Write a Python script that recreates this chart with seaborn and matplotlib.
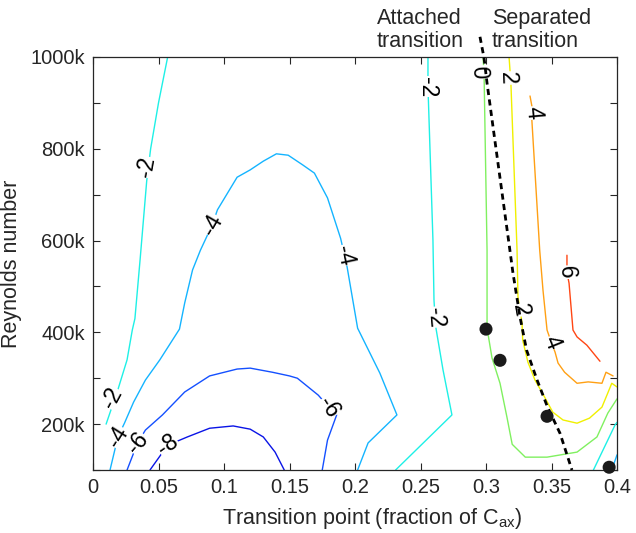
import matplotlib
matplotlib.use("Agg")
import matplotlib.pyplot as plt
import seaborn as sns
import pandas as pd

# ---------------- data ----------------
# contour level -2 (left branch)
m2a_x = [0.057, 0.050, 0.044, 0.041, 0.036, 0.032, 0.030, 0.026, 0.019, 0.010]
m2a_y = [1000, 900, 800, 730, 560, 430, 405, 340, 275, 200]
# contour level -2 (middle branch)
m2b_x = [0.2557, 0.2557, 0.2595, 0.2603, 0.2611, 0.2618, 0.2672, 0.274, 0.231]
m2b_y = [1000, 935, 601, 470, 433, 409, 318, 220, 100]
# contour level -2 (bottom-right piece)
m2c_x = [0.382, 0.3985, 0.400]
m2c_y = [100, 198, 204]
# contour level -4
m4a_x = [0.013, 0.019, 0.024, 0.031, 0.040, 0.051, 0.066, 0.070, 0.076, 0.082,
         0.091, 0.095, 0.110, 0.120, 0.130, 0.140, 0.149, 0.160, 0.169, 0.179,
         0.189, 0.192, 0.194, 0.202, 0.219, 0.232, 0.210, 0.202]
m4a_y = [100, 172, 202, 248, 296, 340, 407, 464, 536, 579,
         634, 667, 738, 754, 773, 789, 786, 765, 747, 693,
         605, 568, 542, 409, 311, 220, 159, 100]
m4b_x = [0.396, 0.400]
m4b_y = [100, 133]
# contour level -6
m6_x = [0.026, 0.034, 0.040, 0.053, 0.070, 0.089, 0.110, 0.120, 0.137, 0.150,
        0.156, 0.172, 0.180, 0.186, 0.179, 0.175]
m6_y = [100, 159, 187, 220, 270, 305, 320, 322, 313, 305,
        300, 263, 237, 220, 165, 100]
# contour level -8
m8_x = [0.0435, 0.057, 0.072, 0.089, 0.107, 0.120, 0.130, 0.139, 0.146]
m8_y = [100, 154, 172, 191, 196, 189, 172, 139, 100]
# contour level 0
p0_x = [0.2977, 0.2985, 0.3008, 0.3008, 0.3046, 0.3107, 0.316, 0.320, 0.330,
        0.3466, 0.3695, 0.3847, 0.393, 0.400]
p0_y = [1000, 967, 579, 409, 344, 289, 215, 156, 128,
        128, 139, 172, 224, 255]
# contour level 2
p2_x = [0.3176, 0.319, 0.3237, 0.3244, 0.326, 0.3275, 0.328, 0.332, 0.3374,
        0.343, 0.351, 0.3588, 0.3695, 0.379, 0.3885, 0.393, 0.396, 0.400]
p2_y = [1000, 943, 579, 477, 449, 420, 383, 335, 296,
        268, 226, 209, 202, 213, 237, 268, 289, 281]
# contour level 4
p4_x = [0.3336, 0.336, 0.335, 0.341, 0.3435, 0.3466, 0.350, 0.3527, 0.355,
        0.360, 0.3695, 0.378, 0.3885, 0.3916, 0.397]
p4_y = [915, 878, 863, 579, 492, 405, 377, 357, 333,
        313, 289, 292, 289, 313, 305]
# contour level 6
p6_x = [0.3618, 0.3618, 0.3634, 0.3664, 0.3695, 0.377, 0.387]
p6_y = [568, 531, 507, 405, 390, 372, 337]

# dashed boundary line
dash_x = [0.2954, 0.2985, 0.3008, 0.318, 0.3206, 0.326, 0.331, 0.339, 0.347, 0.3565, 0.3656]
dash_y = [1044, 998, 943, 584, 529, 433, 361, 296, 237, 180, 100]

# measured points
pt_x = [0.300, 0.3107, 0.3466, 0.394]
pt_y = [407, 339, 217, 106]

# contour labels: text, x, y
lab_text = ["-2", "-2", "-4", "-4", "-4", "-2", "-2", "-6", "-6", "-8",
            "0", "2", "4", "2", "4", "6"]
lab_x = [0.041, 0.0145, 0.019, 0.091, 0.192, 0.2557, 0.261, 0.034, 0.180, 0.057,
         0.2947, 0.3168, 0.336, 0.326, 0.350, 0.3618]
lab_y = [760, 257, 172, 634, 568, 935, 433, 159, 237, 154,
         967, 954, 878, 449, 377, 531]

# tick labels
xticks = [0, 0.05, 0.1, 0.15, 0.2, 0.25, 0.3, 0.35, 0.4]
xticklabels = ["0", "0.05", "0.1", "0.15", "0.2", "0.25", "0.3", "0.35", "0.4"]
yticks = [100, 200, 300, 400, 500, 600, 700, 800, 900, 1000]
yticklabels = ["", "200k", "", "400k", "", "600k", "", "800k", "", "1000k"]

# ---------------- styling ----------------
sns.set_style("ticks")
plt.rcParams["font.family"] = ["Liberation Sans", "DejaVu Sans"]
plt.rcParams["mathtext.fontset"] = "custom"
plt.rcParams["mathtext.rm"] = "Liberation Sans"
plt.rcParams["mathtext.it"] = "Liberation Sans:italic"

col = {
    "-8": "#0a14e6",
    "-6": "#1450ff",
    "-4": "#14b4ff",
    "-2": "#1ef0e6",
    "0": "#80f060",
    "2": "#f0f000",
    "4": "#ffa014",
    "6": "#ff4614",
}
lab_rot = [80, 62, 58, 60, -78, -90, -85, 50, -58, 35,
           -88, -88, -85, -80, -68, -88]

fig = plt.figure(figsize=(6.36, 5.33), dpi=100)
ax = fig.add_axes([93 / 636, 1 - 470 / 533, 524 / 636, 413 / 533])

lines = [
    (m2a_x, m2a_y, "-2"), (m2b_x, m2b_y, "-2"), (m2c_x, m2c_y, "-2"),
    (m4a_x, m4a_y, "-4"), (m4b_x, m4b_y, "-4"),
    (m6_x, m6_y, "-6"), (m8_x, m8_y, "-8"),
    (p0_x, p0_y, "0"), (p2_x, p2_y, "2"), (p4_x, p4_y, "4"), (p6_x, p6_y, "6"),
]
for xs, ys, lev in lines:
    df = pd.DataFrame({"x": xs, "y": ys})
    sns.lineplot(data=df, x="x", y="y", sort=False, estimator=None,
                 color=col[lev], linewidth=1.0, ax=ax, zorder=2)

for t, x, y, r in zip(lab_text, lab_x, lab_y, lab_rot):
    ax.text(x, y, t, rotation=r, rotation_mode="anchor", ha="center", va="center",
            fontsize=16.5, color="black", zorder=4,
            bbox=dict(facecolor="white", edgecolor="none", pad=0.3))

dfd = pd.DataFrame({"x": dash_x, "y": dash_y})
sns.lineplot(data=dfd, x="x", y="y", sort=False, estimator=None, color="black",
             linewidth=2.0, linestyle=(0, (2.2, 1.6)), ax=ax, zorder=5, clip_on=False)

dfp = pd.DataFrame({"x": pt_x, "y": pt_y})
sns.scatterplot(data=dfp, x="x", y="y", color="#1a1a1a", s=88, edgecolor="none",
                ax=ax, zorder=6, clip_on=False)

ax.set_xlim(0, 0.4)
ax.set_ylim(100, 1000)
ax.set_xticks(xticks)
ax.set_xticklabels(xticklabels)
ax.set_yticks(yticks)
ax.set_yticklabels(yticklabels)
ax.tick_params(direction="in", length=5, width=0.8, top=True, right=True,
               labelsize=14.5, colors="#262626", pad=6)
for s in ax.spines.values():
    s.set_visible(True)
    s.set_color("#262626")
    s.set_linewidth(0.9)

ax.set_xlabel("Transition point (fraction of C$_{\\mathrm{ax}}$)", fontsize=15.5,
              color="#262626")
ax.xaxis.set_label_coords((372 - 93) / 524, -(506 - 470) / 413)
ax.set_ylabel("Reynolds number", fontsize=15.5, color="#262626", labelpad=6)

fig.text(377 / 636, 1 - 30 / 533, "Attached\ntransition", ha="left", va="center",
         fontsize=15.5, color="#262626", linespacing=1.1)
fig.text(492 / 636, 1 - 30 / 533, "Separated\ntransition", ha="left", va="center",
         fontsize=15.5, color="#262626", linespacing=1.1)

fig.savefig("out.png", dpi=100)
